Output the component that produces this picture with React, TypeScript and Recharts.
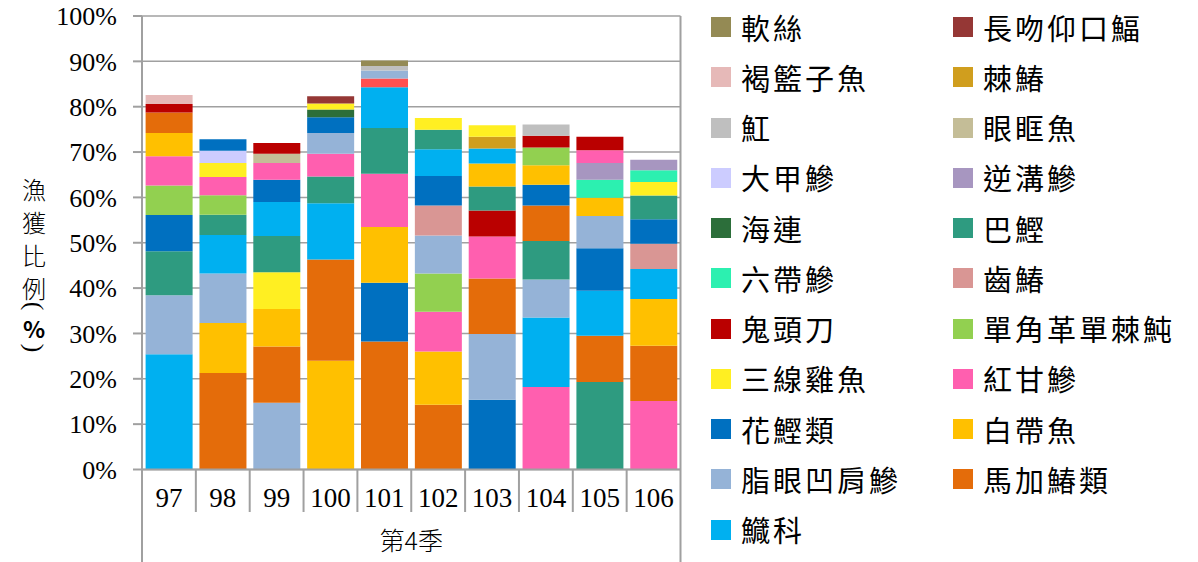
import React from 'react';
import { BarChart, Bar, XAxis, YAxis, CartesianGrid, Cell } from 'recharts';

const years = ['97', '98', '99', '100', '101', '102', '103', '104', '105', '106'];

// top ten species of each year, bottom of the stack first (%)
const y97: [string, number][] = [['鱵科', 25.4], ['脂眼凹肩鰺', 13.0], ['巴鰹', 9.7], ['花鰹類', 8.0], ['單角革單棘魨', 6.5], ['紅甘鰺', 6.5], ['白帶魚', 5.1], ['馬加鰆類', 4.5], ['鬼頭刀', 1.9], ['褐籃子魚', 2.0]];
const y98: [string, number][] = [['馬加鰆類', 21.3], ['白帶魚', 11.0], ['脂眼凹肩鰺', 10.9], ['鱵科', 8.5], ['巴鰹', 4.5], ['單角革單棘魨', 4.3], ['紅甘鰺', 4.0], ['三線雞魚', 3.1], ['大甲鰺', 2.7], ['花鰹類', 2.5]];
const y99: [string, number][] = [['脂眼凹肩鰺', 14.7], ['馬加鰆類', 12.4], ['白帶魚', 8.3], ['三線雞魚', 8.1], ['巴鰹', 8.0], ['鱵科', 7.5], ['花鰹類', 4.9], ['紅甘鰺', 3.7], ['眼眶魚', 2.0], ['鬼頭刀', 2.4]];
const y100: [string, number][] = [['白帶魚', 24.0], ['馬加鰆類', 22.3], ['鱵科', 12.4], ['巴鰹', 5.9], ['紅甘鰺', 5.0], ['脂眼凹肩鰺', 4.6], ['花鰹類', 3.5], ['海連', 1.7], ['三線雞魚', 1.3], ['長吻仰口鰏', 1.6]];
const y101: [string, number][] = [['馬加鰆類', 28.2], ['花鰹類', 13.0], ['白帶魚', 12.3], ['紅甘鰺', 11.7], ['巴鰹', 10.1], ['鱵科', 9.0], ['unlisted', 1.9], ['脂眼凹肩鰺', 1.8], ['魟', 1.0], ['軟絲', 1.2]];
const y102: [string, number][] = [['馬加鰆類', 14.3], ['白帶魚', 11.7], ['紅甘鰺', 8.8], ['單角革單棘魨', 8.4], ['脂眼凹肩鰺', 8.4], ['齒鰆', 6.6], ['花鰹類', 6.5], ['鱵科', 5.9], ['巴鰹', 4.3], ['三線雞魚', 2.6]];
const y103: [string, number][] = [['花鰹類', 15.4], ['脂眼凹肩鰺', 14.5], ['馬加鰆類', 12.2], ['紅甘鰺', 9.3], ['鬼頭刀', 5.7], ['巴鰹', 5.3], ['白帶魚', 5.1], ['鱵科', 3.3], ['棘鰆', 2.6], ['三線雞魚', 2.5]];
const y104: [string, number][] = [['紅甘鰺', 18.2], ['鱵科', 15.3], ['脂眼凹肩鰺', 8.4], ['巴鰹', 8.5], ['馬加鰆類', 7.8], ['花鰹類', 4.6], ['白帶魚', 4.3], ['單角革單棘魨', 3.9], ['鬼頭刀', 2.6], ['魟', 2.5]];
const y105: [string, number][] = [['巴鰹', 19.3], ['馬加鰆類', 10.2], ['鱵科', 9.9], ['花鰹類', 9.4], ['脂眼凹肩鰺', 7.1], ['白帶魚', 4.0], ['六帶鰺', 4.0], ['逆溝鰺', 3.7], ['紅甘鰺', 2.8], ['鬼頭刀', 3.0]];
const y106: [string, number][] = [['紅甘鰺', 15.1], ['馬加鰆類', 12.2], ['白帶魚', 10.3], ['鱵科', 6.6], ['齒鰆', 5.6], ['花鰹類', 5.4], ['巴鰹', 5.2], ['三線雞魚', 3.0], ['六帶鰺', 2.6], ['逆溝鰺', 2.3]];

const stacks = [y97, y98, y99, y100, y101, y102, y103, y104, y105, y106];

const yTicks = [0, 10, 20, 30, 40, 50, 60, 70, 80, 90, 100];

// legend, read row by row (left, right)
const legendOrder = ['軟絲', '長吻仰口鰏', '褐籃子魚', '棘鰆', '魟', '眼眶魚', '大甲鰺', '逆溝鰺', '海連', '巴鰹', '六帶鰺', '齒鰆', '鬼頭刀', '單角革單棘魨', '三線雞魚', '紅甘鰺', '花鰹類', '白帶魚', '脂眼凹肩鰺', '馬加鰆類', '鱵科'];

const colors: Record<string, string> = {
  '軟絲': '#948A54',
  '長吻仰口鰏': '#953735',
  '褐籃子魚': '#E6B9B8',
  '棘鰆': '#D09E1E',
  '魟': '#BFBFBF',
  '眼眶魚': '#C4BD97',
  '大甲鰺': '#CCCCFF',
  '逆溝鰺': '#A796C0',
  '海連': '#2C6E3A',
  '巴鰹': '#2E9B80',
  '六帶鰺': '#2CF0B0',
  '齒鰆': '#D99694',
  '鬼頭刀': '#BA0000',
  '單角革單棘魨': '#92D050',
  '三線雞魚': '#FFEF22',
  '紅甘鰺': '#FF5FAF',
  '花鰹類': '#0070C0',
  '白帶魚': '#FFC000',
  '脂眼凹肩鰺': '#95B3D7',
  '馬加鰆類': '#E46C0A',
  '鱵科': '#00B0F0',
  'unlisted': '#FF5050',
};

const W = 1198;
const H = 562;
const PLOT_LEFT = 142;
const PLOT_RIGHT = 680.5;
const PLOT_TOP = 16;
const PLOT_BOTTOM = 469.5;
const Y_AXIS_W = 100;
const SLOTS = 10;

const LINE = '#A0A0A0';
const CJK = '"Noto Sans CJK TC", "Noto Sans CJK SC", sans-serif';
const SERIF = '"Liberation Serif", "DejaVu Serif", serif';

const rows = years.map((year, i) => {
  const row: Record<string, string | number> = { year };
  stacks[i].forEach(([sp, v], k) => {
    row['v' + k] = v;
    row['sp' + k] = sp;
  });
  return row;
});

const titleChars = ['漁', '獲', '比', '例'];

export default function App() {
  const band = (PLOT_RIGHT - PLOT_LEFT) / years.length;
  return (
    <div style={{ position: 'fixed', left: 0, top: 0, width: W, height: H, background: '#fff' }}>
      <BarChart
        width={W}
        height={H}
        data={rows}
        margin={{ top: PLOT_TOP, right: W - PLOT_RIGHT, bottom: 0, left: PLOT_LEFT - Y_AXIS_W }}
        barCategoryGap="6.7%"
      >
        <CartesianGrid vertical={false} stroke={LINE} strokeWidth={1.5} />
        <XAxis
          dataKey="year"
          height={H - PLOT_BOTTOM}
          tickSize={0}
          tickMargin={18}
          axisLine={{ stroke: LINE, strokeWidth: 2 }}
          tick={{ fontSize: 27, fill: '#000', fontFamily: SERIF }}
          interval={0}
        />
        <YAxis
          width={Y_AXIS_W}
          domain={[0, 100]}
          ticks={yTicks}
          tickFormatter={(v: number) => `${v}%`}
          tickSize={9}
          tickMargin={16}
          axisLine={{ stroke: LINE, strokeWidth: 2 }}
          tickLine={{ stroke: LINE, strokeWidth: 2 }}
          tick={{ fontSize: 26, fill: '#000', fontFamily: SERIF }}
          interval={0}
        />
        {Array.from({ length: SLOTS }, (_, k) => (
          <Bar key={k} dataKey={'v' + k} stackId="s" isAnimationActive={false}>
            {rows.map((r, i) => (
              <Cell key={i} fill={colors[r['sp' + k] as string]} />
            ))}
          </Bar>
        ))}
      </BarChart>

      {/* frame of the plot and the two-level category axis */}
      <svg width={W} height={H} style={{ position: 'absolute', left: 0, top: 0, pointerEvents: 'none' }}>
        <line x1={PLOT_RIGHT} y1={PLOT_TOP} x2={PLOT_RIGHT} y2={H} stroke={LINE} strokeWidth={2} />
        <line x1={PLOT_LEFT} y1={PLOT_BOTTOM} x2={PLOT_LEFT} y2={H} stroke={LINE} strokeWidth={2} />
        {years.slice(1).map((_, i) => (
          <line
            key={i}
            x1={PLOT_LEFT + band * (i + 1)}
            y1={PLOT_BOTTOM}
            x2={PLOT_LEFT + band * (i + 1)}
            y2={512}
            stroke={LINE}
            strokeWidth={2}
          />
        ))}
        <text
          x={(PLOT_LEFT + PLOT_RIGHT) / 2}
          y={539}
          textAnchor="middle"
          dominantBaseline="central"
          fontFamily={CJK}
          fontWeight={300}
          fontSize={25}
        >
          第4季
        </text>
        {titleChars.map((c, i) => (
          <text
            key={c}
            x={34}
            y={188 + i * 33}
            textAnchor="middle"
            dominantBaseline="central"
            fontFamily={CJK}
            fontWeight={300}
            fontSize={24}
          >
            {c}
          </text>
        ))}
        <text x={34} y={306} textAnchor="middle" dominantBaseline="central" fontSize={26} fontFamily={SERIF} transform="rotate(90 34 306)">(</text>
        <text x={34} y={328} textAnchor="middle" dominantBaseline="central" fontSize={23} fontWeight="bold" fontFamily={CJK}>%</text>
        <text x={34} y={348} textAnchor="middle" dominantBaseline="central" fontSize={26} fontFamily={SERIF} transform="rotate(90 34 348)">)</text>
      </svg>

      {/* legend */}
      <div
        style={{
          position: 'absolute',
          left: 711,
          top: 2,
          display: 'grid',
          gridTemplateColumns: '242px 230px',
          gridAutoRows: '50.25px',
          fontFamily: CJK,
        }}
      >
        {legendOrder.map((name) => (
          <div key={name} style={{ display: 'flex', alignItems: 'center' }}>
            <span style={{ width: 20, height: 20, background: colors[name], display: 'inline-block', flex: 'none' }} />
            <span style={{ marginLeft: 10, fontSize: 29, letterSpacing: 3, lineHeight: 1, color: '#000', whiteSpace: 'nowrap' }}>{name}</span>
          </div>
        ))}
      </div>
    </div>
  );
}
